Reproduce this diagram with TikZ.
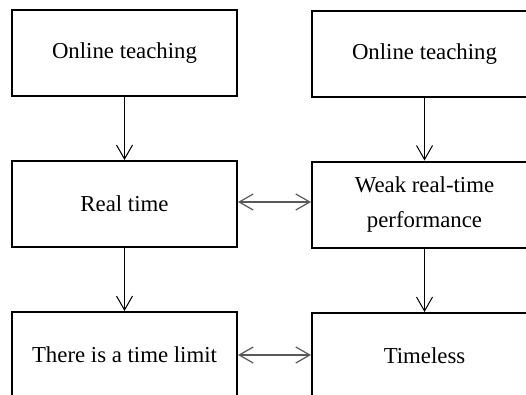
\documentclass[tikz,border=0pt]{standalone}
\usepackage{fontspec}
\setmainfont{Liberation Serif}
\usetikzlibrary{arrows.meta}
\begin{document}
\begin{tikzpicture}[x=1pt,y=-1pt,
  box/.style={draw=black,line width=2pt,minimum width=225pt,minimum height=86pt,
    inner sep=0pt,align=center,font=\fontsize{22.8}{35}\selectfont},
  varrow/.style={draw=black,line width=1pt,-{Straight Barb[length=14pt,width=16pt,line width=1pt]}},
  harrow/.style={draw=black!65,line width=1.2pt,{Straight Barb[length=14pt,width=16pt,line width=1.2pt]}-{Straight Barb[length=14pt,width=16pt,line width=1.2pt]}}]
\useasboundingbox (0,0) rectangle (526,394);
\clip (0,0) rectangle (526,394);
\fill[white] (0,0) rectangle (526,394);
\node[box] (a1) at (124.5,53) {Online teaching};
\node[box] (a2) at (124.5,204) {Real time};
\node[box] (a3) at (124.5,355) {There is a time limit};
\node[box] (b1) at (424.5,54) {Online teaching};
\node[box] (b2) at (424.5,204.5) {Weak real-time\\performance};
\node[box] (b3) at (424.5,356) {Timeless};
\coordinate (h2) at (0,202);
\draw[varrow] (a1) -- (a2);
\draw[varrow] (a2) -- (a3);
\draw[varrow] (b1) -- (b2);
\draw[varrow] (b2) -- (b3);
\draw[harrow] (h2 -| a2.east) -- (h2 -| b2.west);
\draw[harrow] (a3.east) -- (a3.east -| b3.west);
\end{tikzpicture}
\end{document}
